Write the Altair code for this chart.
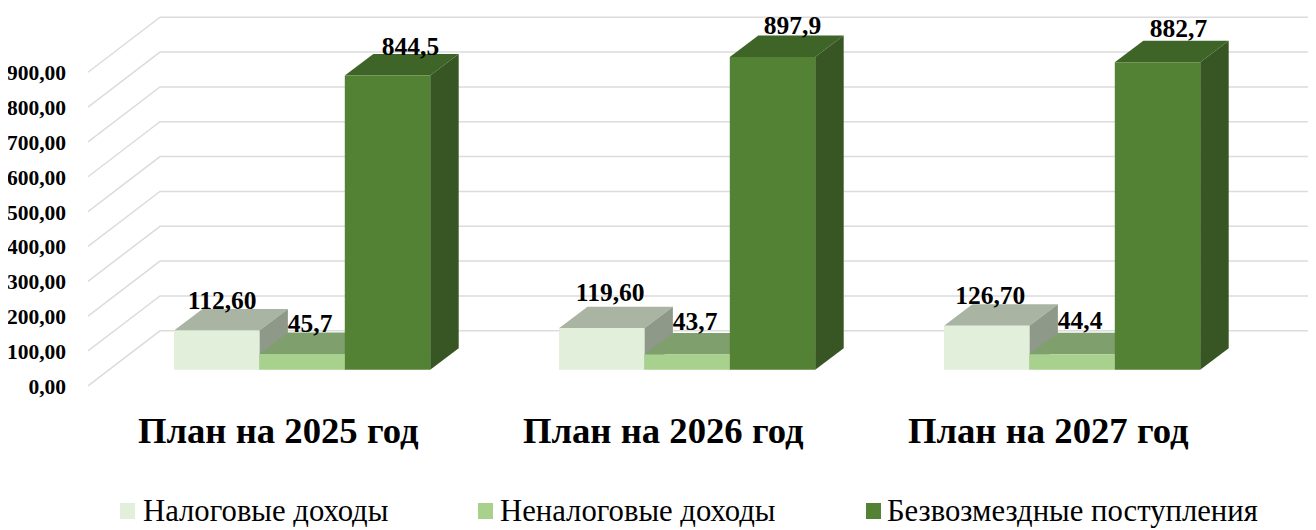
import altair as alt
import pandas as pd

categories = ["План на 2025 год", "План на 2026 год", "План на 2027 год"]
series = ["Налоговые доходы", "Неналоговые доходы", "Безвозмездные поступления"]
values_tax = [112.6, 119.6, 126.7]
values_nontax = [45.7, 43.7, 44.4]
values_free = [844.5, 897.9, 882.7]
labels_tax = ["112,60", "119,60", "126,70"]
labels_nontax = ["45,7", "43,7", "44,4"]
labels_free = ["844,5", "897,9", "882,7"]
y_ticks = [0, 100, 200, 300, 400, 500, 600, 700, 800, 900]
y_tick_labels = ["0,00", "100,00", "200,00", "300,00", "400,00", "500,00", "600,00", "700,00", "800,00", "900,00"]

front_colors = ["#e2efda", "#a9d18e", "#548235"]
top_colors = ["#a9b4a3", "#7f9f6c", "#3f6427"]
side_colors = ["#8f998a", "#6c8a58", "#375623"]
TEXT = "#000000"
GRID = "#dcdcdc"
SERIF = "Liberation Serif"

W, H = 1300, 520
BAR_PX = 85.4
K = 0.3484             # px per value unit
ZERO_PX = 361.8        # plot-y of value 0 in the bars' front plane
xs = alt.Scale(domain=[0, W / BAR_PX], range=[0, W], nice=False, zero=False)
ys = alt.Scale(domain=[-(H - ZERO_PX) / K, ZERO_PX / K], range=[H, 0], nice=False, zero=False)
X = alt.X("x:Q", scale=xs, axis=None)
Y = alt.Y("y:Q", scale=ys, axis=None)

FIRST = 166 / BAR_PX
GROUP = 385 / BAR_PX
DX, DY = 28.5 / BAR_PX, 21.5 / K

vals = [values_tax, values_nontax, values_free]
labs = [labels_tax, labels_nontax, labels_free]

# wall grid: front edge on the left, back plane running to the right
G_FX, G_BX, G_END = 80 / BAR_PX, 152 / BAR_PX, W / BAR_PX
G_FY, G_BY = -16 / K, 39 / K
grid = []
for t in y_ticks:
    grid += [dict(id=t, x=G_FX, y=t + G_FY, o=0), dict(id=t, x=G_BX, y=t + G_BY, o=1), dict(id=t, x=G_END, y=t + G_BY, o=2)]
grid_layer = alt.Chart(pd.DataFrame(grid)).mark_line(color=GRID, strokeWidth=1.5, clip=True).encode(
    x=X, y=Y, detail="id:N", order="o:Q")

layers = [grid_layer]
for j in range(3):
    top, side, front = [], [], []
    for i in range(3):
        x0 = FIRST + i * GROUP + j
        v = vals[j][i]
        top += [dict(id=i, y=v, x=x0, x2=x0 + 1), dict(id=i, y=v + DY, x=x0 + DX, x2=x0 + 1 + DX)]
        side += [dict(id=i, x=x0 + 1, y=v, y2=0), dict(id=i, x=x0 + 1 + DX, y=v + DY, y2=DY)]
        front.append(dict(x=x0, x2=x0 + 1, y=v, y2=0))
    layers.append(alt.Chart(pd.DataFrame(top)).mark_area(orient="horizontal", color=top_colors[j], interpolate="linear").encode(
        x=X, x2="x2:Q", y=Y, detail="id:N"))
    layers.append(alt.Chart(pd.DataFrame(side)).mark_area(orient="vertical", color=side_colors[j], interpolate="linear").encode(
        x=X, y=Y, y2="y2:Q", detail="id:N"))
    layers.append(alt.Chart(pd.DataFrame(front)).mark_rect(color=front_colors[j]).encode(
        x=X, x2="x2:Q", y=Y, y2="y2:Q"))

# value labels
label_rows = []
label_dx = [[5.5, 8.5, 3.5], [8, 8, 8], [23, 20, 21]]
label_dy = [[30, 35, 30], [30, 33, 33], [29, 31, 33]]
for j in range(3):
    for i in range(3):
        label_rows.append(dict(x=FIRST + i * GROUP + j + 0.5 + label_dx[j][i] / BAR_PX,
                               y=vals[j][i] + label_dy[j][i] / K, t=labs[j][i]))
layers.append(alt.Chart(pd.DataFrame(label_rows)).mark_text(
    font=SERIF, fontWeight="bold", fontSize=25.5, color=TEXT, baseline="middle", align="center").encode(x=X, y=Y, text="t:N"))

# y tick labels
tick_df = pd.DataFrame(dict(x=[58 / BAR_PX] * 10, y=[t - 18 / K for t in y_ticks], t=y_tick_labels))
layers.append(alt.Chart(tick_df).mark_text(
    font=SERIF, fontWeight="bold", fontSize=21.5, color=TEXT, baseline="middle", align="right").encode(x=X, y=Y, text="t:N"))

# category labels
cat_df = pd.DataFrame(dict(x=[FIRST + i * GROUP + 1.22 for i in range(3)], y=[-62 / K] * 3, t=categories))
layers.append(alt.Chart(cat_df).mark_text(
    font=SERIF, fontWeight="bold", fontSize=36.7, color=TEXT, baseline="middle", align="center").encode(x=X, y=Y, text="t:N"))

# legend
leg_sq_x = [112, 470, 858]
leg_txt_x = [135, 492, 879]
leg_y = 503
for k in range(3):
    d = pd.DataFrame(dict(t=[series[k]]))
    layers.append(alt.Chart(d).mark_rect(color=front_colors[k]).encode(
        x=alt.value(leg_sq_x[k]), x2=alt.value(leg_sq_x[k] + 15), y=alt.value(leg_y - 8), y2=alt.value(leg_y + 8)))
    layers.append(alt.Chart(d).mark_text(font=SERIF, fontSize=30.7, color=TEXT, align="left", baseline="middle").encode(
        x=alt.value(leg_txt_x[k]), y=alt.value(leg_y + 1), text="t:N"))

chart = alt.layer(*layers).resolve_scale(x="shared", y="shared").properties(
    width=W, height=H, padding=0, background="white",
    autosize=alt.AutoSizeParams(type="none")
).configure_view(stroke=None)

chart.save("out.html", embed_options={"renderer": "svg", "actions": False})
